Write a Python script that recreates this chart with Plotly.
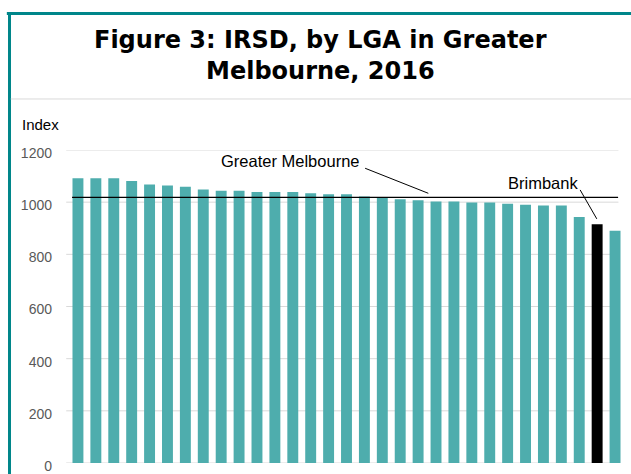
import plotly.graph_objects as go

# IRSD score per LGA (sorted descending); LGA names are not visible in the image
lga_index = list(range(31))
irsd = [1092, 1092, 1092, 1081, 1068, 1064, 1059, 1049, 1044, 1044,
        1039, 1039, 1039, 1034, 1030, 1030, 1022, 1017, 1011, 1007,
        1003, 1003, 999, 999, 994, 990, 987, 987, 943, 915, 890]
highlight_index = 29  # Brimbank
greater_melbourne = 1018
y_ticks = [0, 200, 400, 600, 800, 1000, 1200]

TEAL = "#4EADAD"
FRAME = "#00868A"
GRID = "#D9D9D9"
FONT = "Liberation Sans, Arial, sans-serif"

colors = [("#000000" if i == highlight_index else TEAL) for i in lga_index]

fig = go.Figure()
fig.add_trace(go.Bar(x=lga_index, y=irsd, marker=dict(color=colors, line=dict(width=0)),
                     hoverinfo="x+y"))

shapes = []
# gridlines
for t in y_ticks:
    shapes.append(dict(type="line", xref="paper", yref="y", x0=-0.005, x1=0.99, y0=t, y1=t,
                       line=dict(color=GRID, width=1), layer="below"))
# Greater Melbourne reference line
shapes.append(dict(type="line", xref="x", yref="y", x0=-0.33, x1=30.17,
                   y0=greater_melbourne, y1=greater_melbourne,
                   line=dict(color="#000000", width=1.3), layer="above"))
# leader lines
shapes.append(dict(type="line", xref="x", yref="y", x0=16.04, y0=1130, x1=19.57, y1=1034,
                   line=dict(color="#000000", width=1)))
shapes.append(dict(type="line", xref="x", yref="y", x0=28.05, y0=1047, x1=28.98, y1=936,
                   line=dict(color="#000000", width=1)))
# frame
shapes.append(dict(type="line", xref="paper", yref="paper", x0=-0.112, x1=1.1, y0=1.436, y1=1.436,
                   line=dict(color=FRAME, width=3)))
shapes.append(dict(type="line", xref="paper", yref="paper", x0=-0.1072, x1=-0.1072, y0=1.44, y1=-0.2,
                   line=dict(color=FRAME, width=3)))
shapes.append(dict(type="line", xref="paper", yref="paper", x0=-0.105, x1=1.1, y0=1.163, y1=1.163,
                   line=dict(color=GRID, width=1)))

annotations = [
    dict(text="<b>Figure 3: IRSD, by LGA in Greater</b>", xref="paper", yref="paper",
         x=0.454, y=1.3514, xanchor="center", yanchor="middle", showarrow=False,
         font=dict(family="DejaVu Sans", size=24, color="#000000")),
    dict(text="<b>Melbourne, 2016</b>", xref="paper", yref="paper",
         x=0.454, y=1.2524, xanchor="center", yanchor="middle", showarrow=False,
         font=dict(family="DejaVu Sans", size=24, color="#000000")),
    dict(text="Index", xref="paper", yref="paper", x=-0.0505, y=1.0799,
         xanchor="center", yanchor="middle", showarrow=False,
         font=dict(family=FONT, size=15, color="#000000")),
    dict(text="Greater Melbourne", xref="x", yref="y", x=11.87, y=1158,
         xanchor="center", yanchor="middle", showarrow=False,
         font=dict(family=FONT, size=16.5, color="#000000")),
    dict(text="Brimbank", xref="x", yref="y", x=25.95, y=1074,
         xanchor="center", yanchor="middle", showarrow=False,
         font=dict(family=FONT, size=16.5, color="#000000")),
]

fig.update_layout(
    width=631, height=474,
    margin=dict(l=69, r=7, t=150, b=11, pad=0, autoexpand=False),
    paper_bgcolor="white", plot_bgcolor="white",
    showlegend=False, bargap=0.39,
    shapes=shapes, annotations=annotations,
    font=dict(family=FONT),
)
fig.update_xaxes(range=[-0.5, 30.5], showticklabels=False, showgrid=False, zeroline=False,
                 showline=False, ticks="", automargin=False)
fig.update_yaxes(range=[0, 1200], tickvals=y_ticks, showgrid=False, zeroline=False,
                 showline=False, ticks="", ticklabelstandoff=16, ticklabelshift=3,
                 automargin=False,
                 tickfont=dict(size=14, color="#595959", family=FONT))

fig.write_html("out.html", config={"displayModeBar": False},
               post_script="document.body.style.margin='0';document.body.style.overflow='hidden';")
